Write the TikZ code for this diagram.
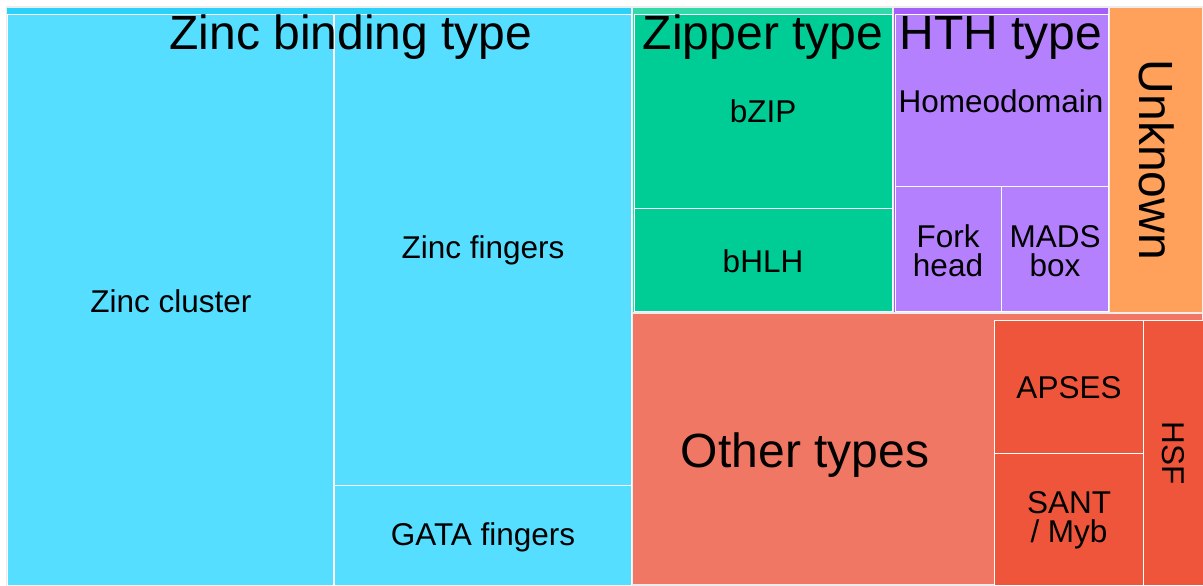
\documentclass[tikz,border=0pt]{standalone}
\usepackage{fontspec}
\setmainfont{Liberation Sans}
\definecolor{zincTop}{HTML}{2AD2F9}
\definecolor{zincCol}{HTML}{55DEFF}
\definecolor{zipTop}{HTML}{33D9A8}
\definecolor{zipCol}{HTML}{00CC96}
\definecolor{hthTop}{HTML}{A45EFA}
\definecolor{hthCol}{HTML}{B580FE}
\definecolor{unkCol}{HTML}{FFA15A}
\definecolor{otherCol}{HTML}{F07763}
\definecolor{otherSub}{HTML}{EF553B}

\begin{document}
\begin{tikzpicture}[x=0.5pt,y=-0.5pt,
	parentbox/.style={draw=white!85!gray, line width=0.6pt},
	childbox/.style={draw=white, line width=0.5pt},
	small/.style={font=\fontsize{15.75}{14.5}\selectfont, align=center, inner sep=0pt},
	big/.style={font=\fontsize{24}{28}\selectfont, inner sep=0pt}]
	\useasboundingbox[fill=white] (0,0) rectangle (1203,585);
	
	% zinc binding type
	\filldraw[parentbox, fill=zincTop] (6.5,7) rectangle (632,585);
	\filldraw[childbox, fill=zincCol] (7.5,14) rectangle (333.5,585);
	\filldraw[childbox, fill=zincCol] (334,14) rectangle (631,485.5);
	\filldraw[childbox, fill=zincCol] (334,485.5) rectangle (631,585);
	\node[big, anchor=base] (zinc) at (351,49) {Zinc binding type};
	\node[small, anchor=base] (cluster) at (171,312) {Zinc cluster};
	\node[small, anchor=base] (fingers) at (483,258) {Zinc fingers};
	\node[small, anchor=base] (gata) at (483,545) {GATA fingers};
	
	% zipper type
	\filldraw[parentbox, fill=zipTop] (632.5,7) rectangle (893,312.5);
	\filldraw[childbox, fill=zipCol] (634,14) rectangle (892,208.5);
	\filldraw[childbox, fill=zipCol] (634,208.5) rectangle (892,311);
	\node[big, anchor=base] (zipper) at (763,49) {Zipper type};
	\node[small, anchor=base] (bzip) at (763,122) {bZIP};
	\node[small, anchor=base] (bhlh) at (763,272) {bHLH};
	
	% HTH type
	\filldraw[parentbox, fill=hthTop] (893.5,7) rectangle (1109,312.5);
	\filldraw[childbox, fill=hthCol] (895,14) rectangle (1108,186.5);
	\filldraw[childbox, fill=hthCol] (895,186.5) rectangle (1001.5,311);
	\filldraw[childbox, fill=hthCol] (1001.5,186.5) rectangle (1108,311);
	\node[big, anchor=base] (hth) at (1001,49) {HTH type};
	\node[small, anchor=base] (homeo) at (1001,112) {Homeodomain};
	\node[small] (fork) at (948,251) {Fork\\head};
	\node[small] (mads) at (1055,251) {MADS\\box};
	
	% unknown
	\filldraw[parentbox, fill=unkCol] (1109.5,7) rectangle (1203,312.5);
	\node[big, rotate=-90] (unknown) at (1157,160) {Unknown};
	
	% other types
	\filldraw[parentbox, fill=otherCol] (632.5,313) rectangle (1203,585);
	\filldraw[childbox, fill=otherSub] (994,320) rectangle (1143.5,453.5);
	\filldraw[childbox, fill=otherSub] (994,453.5) rectangle (1143.5,585);
	\filldraw[childbox, fill=otherSub] (1143.5,320) rectangle (1203,585);
	\node[big, anchor=base] (other) at (805,467) {Other types};
	\node[small, anchor=base] (apses) at (1069,398) {APSES};
	\node[small] (sant) at (1069,520) {SANT\\/ Myb};
	\node[small, rotate=-90] (hsf) at (1173,453) {HSF};
\end{tikzpicture}
\end{document}
